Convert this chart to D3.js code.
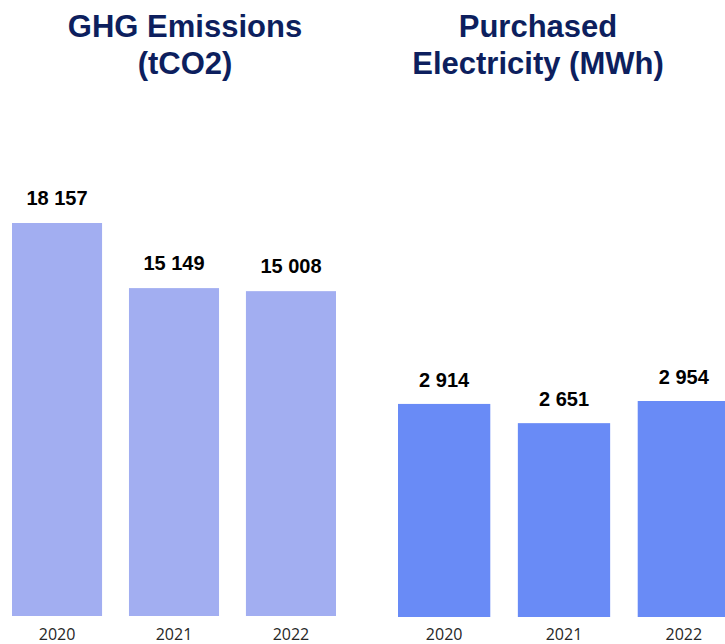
<!DOCTYPE html>
<html>
<head>
<meta charset="utf-8">
<script src="https://cdn.jsdelivr.net/npm/d3@7"></script>
<style>
html,body{margin:0;padding:0;background:#fff;overflow:hidden;}
</style>
</head>
<body>
<div id="chart"></div>
<script>
const years = ["2020", "2021", "2022"];
const ghgValues = [18157, 15149, 15008];
const elecValues = [2914, 2651, 2954];
const ghgTitle = ["GHG Emissions", "(tCO2)"];
const elecTitle = ["Purchased", "Electricity (MWh)"];

const W = 725, H = 644;
const svg = d3.select("#chart").append("svg").attr("width", W).attr("height", H);

const fmt = v => d3.format(",")(v).replace(/,/g, " ");

function panel(values, title, opt) {
  const x = d3.scaleBand().domain(years).range(opt.xRange).paddingInner(opt.padInner).paddingOuter(0);
  const y = d3.scaleLinear().domain([0, d3.max(values)]).range([opt.bottom, opt.topOfMax]);
  const g = svg.append("g");
  const data = years.map((yr, i) => ({yr, v: values[i]}));
  g.selectAll("rect").data(data).join("rect")
    .attr("x", d => x(d.yr)).attr("width", x.bandwidth())
    .attr("y", d => y(d.v)).attr("height", d => opt.bottom - y(d.v))
    .attr("fill", opt.color);
  g.selectAll("text.val").data(data).join("text").attr("class", "val")
    .attr("x", d => x(d.yr) + x.bandwidth() / 2)
    .attr("y", d => y(d.v) - opt.labelGap)
    .attr("text-anchor", "middle")
    .attr("font-family", "Liberation Sans, Arial, sans-serif")
    .attr("font-weight", "bold").attr("font-size", 20).attr("fill", "#000")
    .text(d => fmt(d.v));
  const axis = d3.axisBottom(x).tickSize(0).tickPadding(0);
  const ag = g.append("g").attr("transform", `translate(0,${opt.axisY})`).call(axis);
  ag.select(".domain").remove();
  ag.selectAll("text").attr("font-family", "Open Sans, Noto Sans, sans-serif")
    .attr("font-size", 16).attr("fill", "#262626").attr("dy", 0);
  g.selectAll("text.title").data(title).join("text").attr("class", "title")
    .attr("x", opt.titleX).attr("y", (d, i) => 37 + i * 37)
    .attr("text-anchor", "middle")
    .attr("font-family", "Liberation Sans, Arial, sans-serif")
    .attr("font-weight", "bold").attr("font-size", 31).attr("fill", "#0d1f5e")
    .text(d => d);
}

panel(ghgValues, ghgTitle, {
  xRange: [12, 336], padInner: 0.23, bottom: 616, topOfMax: 223,
  color: "#a2aef1", labelGap: 18, axisY: 640, titleX: 185
});
panel(elecValues, elecTitle, {
  xRange: [398, 730], padInner: 0.23, bottom: 617, topOfMax: 401,
  color: "#698bf6", labelGap: 17, axisY: 640, titleX: 538
});
</script>
</body>
</html>
